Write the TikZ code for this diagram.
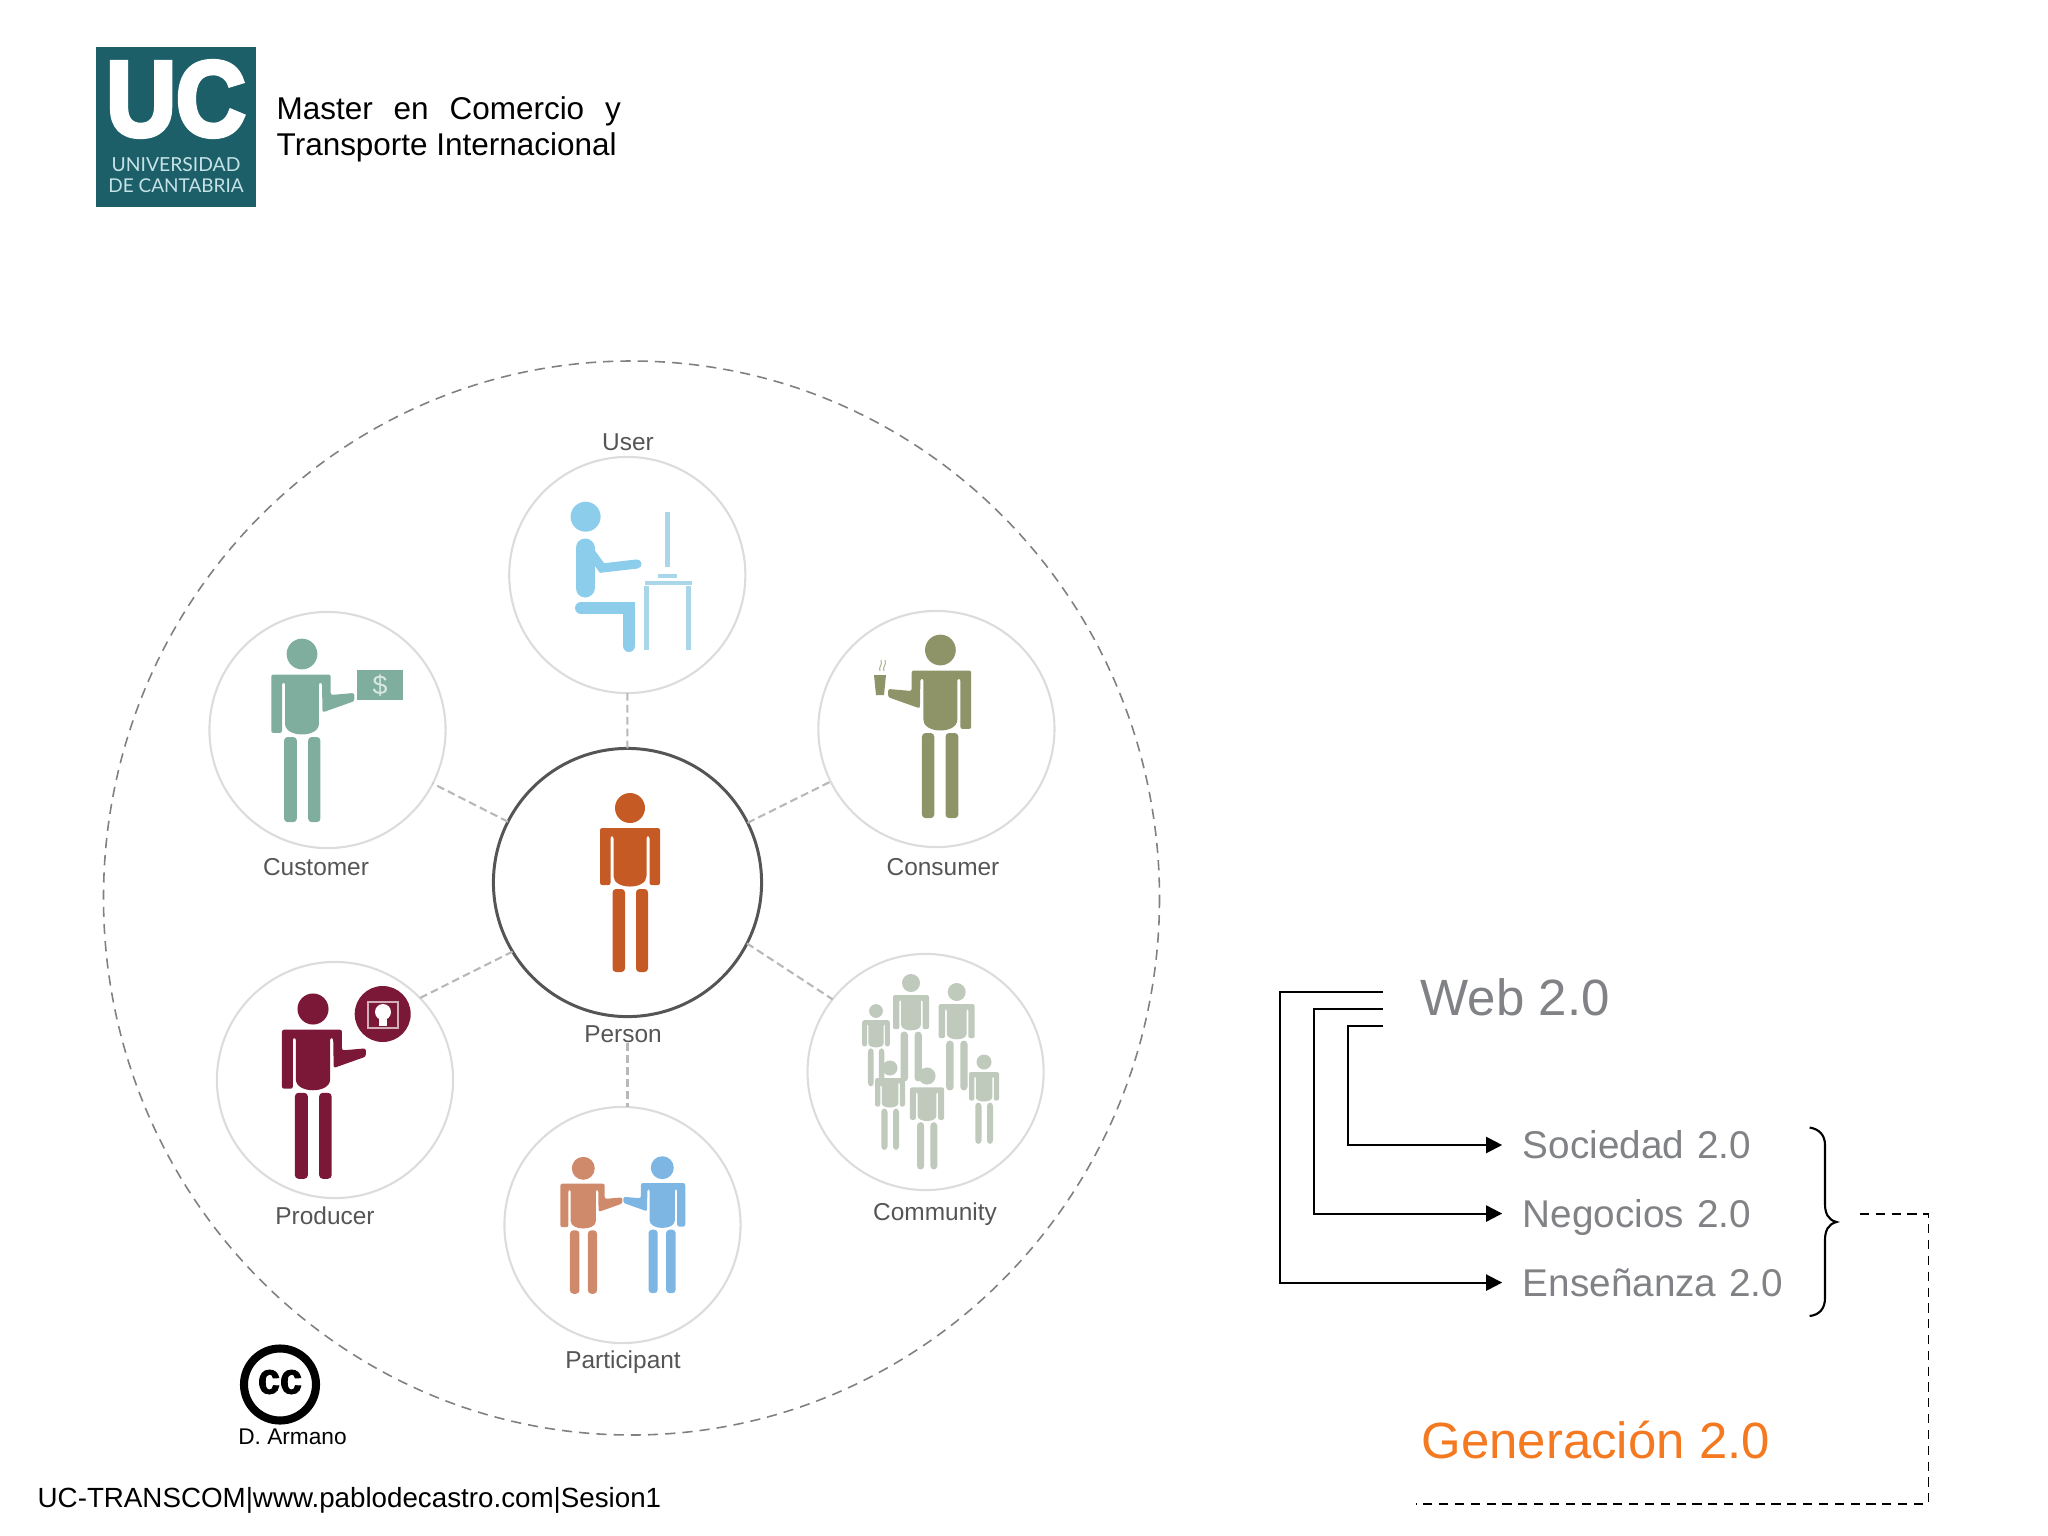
\documentclass[tikz,border=0pt]{standalone}
\usepackage{fontspec}
\setmainfont{Liberation Sans}
\newfontfamily\logofont[UprightFont=* Bold,FakeBold=4,FakeStretch=0.9]{Liberation Sans}
\newfontfamily\stampfont[UprightFont=* Bold,FakeBold=2,FakeStretch=0.9]{Liberation Sans}
\newfontfamily\sealfont{Lato}
\usetikzlibrary{arrows.meta}
\definecolor{ucteal}{HTML}{1C5F69}
\definecolor{ucpale}{HTML}{C6E2E6}
\definecolor{ringgray}{HTML}{808080}
\definecolor{bordergray}{HTML}{DCDCDC}
\definecolor{hubgray}{HTML}{555555}
\definecolor{spokegray}{HTML}{B8B8B8}
\definecolor{labelgray}{HTML}{555555}
\definecolor{webgray}{HTML}{808285}
\definecolor{genorange}{HTML}{F47920}
\definecolor{manorange}{HTML}{C55A25}
\definecolor{manblue}{HTML}{8CCDEC}
\definecolor{deskblue}{HTML}{A9D6E8}
\definecolor{manteal}{HTML}{7FAD9E}
\definecolor{manolive}{HTML}{8E9468}
\definecolor{manred}{HTML}{7B1737}
\definecolor{mangray}{HTML}{BFC9BC}
\definecolor{mansalmon}{HTML}{CF8A6B}
\definecolor{mansky}{HTML}{7DB5E3}
\tikzset{
  sat/.style={circle,draw=bordergray,line width=.6pt,minimum size=2.36cm,inner sep=0pt,outer sep=0pt},
  hub/.style={circle,draw=hubgray,line width=.85pt,minimum size=2.68cm,inner sep=0pt,outer sep=0pt},
  spoke/.style={draw=spokegray,line width=.6pt,dash pattern=on 2.2pt off 1.2pt},
  ring/.style={draw=ringgray,line width=.45pt,dash pattern=on 2.9pt off 2pt},
  lbl/.style={font=\fontsize{6.95}{8}\selectfont,text=labelgray,inner sep=0pt},
  item/.style={font=\fontsize{11}{12}\selectfont,text=webgray,text width=3.2cm,align=left,inner xsep=0pt,inner ysep=0pt,text height=7.9pt,text depth=0pt},
  conn/.style={draw=black,line width=.6pt,-{Triangle[length=4.6pt,width=4.6pt]},shorten >=.2cm},
  bare/.style={draw=black,line width=.6pt},
  linkdash/.style={draw=black,line width=.55pt,dash pattern=on 2.6pt off 1.9pt}
}
\newcommand{\manparts}{
  \fill (0,0) circle (15);
  \fill[rounded corners=1pt] (-17.5,81) rectangle (-5,164);
  \fill[rounded corners=1pt] (6,81) rectangle (18,164);
}
\newcommand{\standman}[4]{
  \begin{scope}[shift={(#1,#2)},scale=#3,fill=#4]
    \manparts
    \fill[rounded corners=.6pt] (-30,20) -- (30,20) -- (30,77) -- (19.5,77) -- (19.5,28) -- (16.5,28) -- (16.5,66) .. controls (16.5,82) and (-16.5,82) .. (-16.5,66) -- (-16.5,28) -- (-19.5,28) -- (-19.5,77) -- (-30,77) -- cycle;
  \end{scope}
}
\newcommand{\armman}[5]{
  \begin{scope}[shift={(#1,#2)},scale=#3,xscale=#5,fill=#4]
    \manparts
    \fill[rounded corners=.6pt] (-30,20) -- (28,20) -- (28,40) -- (51,38) -- (51,46) -- (20,57) -- (19.5,28) -- (16.5,28) -- (16.5,66) .. controls (16.5,82) and (-16.5,82) .. (-16.5,66) -- (-16.5,28) -- (-19.5,28) -- (-19.5,77) -- (-30,77) -- cycle;
  \end{scope}
}
\begin{document}
\begin{tikzpicture}[x=.01cm,y=-.01cm]
\useasboundingbox (0,0) rectangle (2048,1536);

\fill[ucteal] (96,47) rectangle (256,207);
\node [inner sep=0pt,text=white,font=\logofont\fontsize{30.5}{32}\selectfont] (logouc) at (176,99) {UC};
\node [inner sep=0pt,text=ucpale,font=\sealfont\fontsize{5.5}{6}\selectfont] (logouni) at (176,165) {UNIVERSIDAD};
\node [inner sep=0pt,text=ucpale,font=\sealfont\fontsize{5.4}{6}\selectfont] (logocan) at (176,185.5) {DE CANTABRIA};
\node [inner sep=0pt,anchor=north west,text width=3.44cm,align=justify,font=\fontsize{8.95}{10.1}\selectfont] (title) at (276,96) {Master en Comercio y Transporte Internacional};

\draw[ring] (631.5,898) ellipse [x radius=528,y radius=537];

\node [hub] (person) at (627.5,882.5) {};
\node [sat] (user) at (627.3,575) {};
\node [sat] (customer) at (327.5,730) {};
\node [sat] (consumer) at (936.4,729) {};
\node [sat] (producer) at (335,1080) {};
\node [sat] (community) at (925.6,1072) {};
\node [sat] (participant) at (622.5,1225) {};

\node [lbl] (luser) at (628,442) {User};
\node [lbl] (lcustomer) at (316,867) {Customer};
\node [lbl] (lconsumer) at (943,867) {Consumer};
\node [lbl] (lperson) at (623,1034) {Person};
\node [lbl] (lproducer) at (325,1216) {Producer};
\node [lbl] (lcommunity) at (935,1214) {Community};
\node [lbl] (lparticipant) at (623,1362) {Participant};

\draw[spoke] (person) -- (user);
\draw[spoke] (person) -- (customer);
\draw[spoke] (person) -- (consumer);
\draw[spoke] (person.211) -- (producer.44);
\draw[spoke] (person.-27) -- (community.142);
\draw[spoke] (person |- lperson.south) -- (person |- participant.north);

\standman{630}{808}{1}{manorange}

\fill[manblue] (585.6,516.7) circle (15);
\draw[manblue,line width=5.4pt,line cap=round] (585,548) -- (585,588);
\draw[manblue,line width=2.6pt,line cap=round] (591,553) -- (602,568) -- (637,564);
\draw[manblue,line width=3.4pt,line cap=round] (581,608) -- (629,608) -- (629,646);
\draw[deskblue,line width=1.3pt] (667.5,512) -- (667.5,567);
\draw[deskblue,line width=1pt] (658,576) -- (677,576);
\draw[deskblue,line width=1.1pt] (644.5,583) -- (692,583);
\draw[deskblue,line width=1.4pt] (646.5,586) -- (646.5,650);
\draw[deskblue,line width=1.4pt] (688.5,586) -- (688.5,650);

\armman{302}{654}{1.025}{manteal}{1}
\fill[manteal] (357,670) rectangle (403,700);
\node [inner sep=0pt,text=white!70!manteal,font=\fontsize{7.6}{8}\selectfont] (dollar) at (380,686) {\$};

\armman{940.4}{650}{1.025}{manolive}{-1}
\fill[manolive] (874,675) -- (886,675) -- (884,695) -- (876,695) -- cycle;
\draw[manolive!70,line width=.3pt] (880,671) .. controls (878,667) and (883,665) .. (881,660);
\draw[manolive!70,line width=.3pt] (884,671) .. controls (882,667) and (887,665) .. (885,660);

\armman{313}{1009}{1.035}{manred}{1}
\fill[manred] (382.7,1014) circle (28);
\draw[white!65!manred,line width=.5pt] (368,1002) rectangle (398,1028);
\fill[white] (383,1012) circle (8);
\fill[white] (379,1016) rectangle (387,1026);

\begin{scope}[draw=white,line width=.25pt]
\standman{876}{1011}{.46}{mangray,draw=white}
\standman{911}{983}{.6}{mangray,draw=white}
\standman{956.7}{992}{.6}{mangray,draw=white}
\standman{890}{1068}{.5}{mangray,draw=white}
\standman{927}{1076}{.57}{mangray,draw=white}
\standman{984}{1062}{.5}{mangray,draw=white}
\end{scope}

\armman{583.3}{1168.3}{.765}{mansalmon}{1}
\armman{662.3}{1167.7}{.765}{mansky}{-1}

\draw[black,line width=2.3pt] (280,1384.5) circle (36);
\node [inner sep=0pt,font=\stampfont\fontsize{12.5}{13}\selectfont] (cc) at (280,1382) {cc};
\node [inner sep=0pt,font=\fontsize{6.45}{7}\selectfont] (armano) at (292.5,1437) {D. Armano};
\node [inner sep=0pt,anchor=west,font=\fontsize{7.89}{9}\selectfont] (footer) at (37,1500.5) {UC-TRANSCOM|www.pablodecastro.com|Sesion1};

\node [inner sep=0pt,anchor=west,text=webgray,font=\fontsize{14.5}{16}\selectfont] (web) at (1420,997) {Web 2.0};
\coordinate (web1) at (1382.6,991.8);
\coordinate (web2) at (1382.6,1009);
\coordinate (web3) at (1382.6,1025.7);

\node [item] (sociedad) at (1683,1145) {Sociedad 2.0};
\node [item,below of=sociedad,node distance=.685cm] (negocios) {Negocios 2.0};
\node [item,below of=negocios,node distance=.69cm] (ensenanza) {Enseñanza 2.0};
\node [inner sep=0pt,anchor=west,text=genorange,font=\fontsize{14.48}{16}\selectfont] (generacion) at (1421,1440) {Generación 2.0};

\draw[conn] (web1) -- ++(-102.6,0) |- (ensenanza.west);
\draw[conn] (web2) -- ++(-68.6,0) |- (negocios.west);
\draw[conn] (web3) -- ++(-34.6,0) |- (sociedad.west);

\draw[bare] (1809.6,1127.5) .. controls (1819,1129) and (1825,1135) .. (1825,1145) -- (1825,1204) .. controls (1825,1213) and (1828,1220) .. (1836.5,1222) .. controls (1828,1224) and (1825,1231) .. (1825,1240) -- (1825,1298) .. controls (1825,1309) and (1819,1315) .. (1809.6,1316);

\coordinate (bracetip) at (1860,1213.6);
\coordinate (genend) at (1416,1503.6);
\draw[linkdash] (bracetip) -- ++(68.5,0) |- (genend);
\end{tikzpicture}
\end{document}
